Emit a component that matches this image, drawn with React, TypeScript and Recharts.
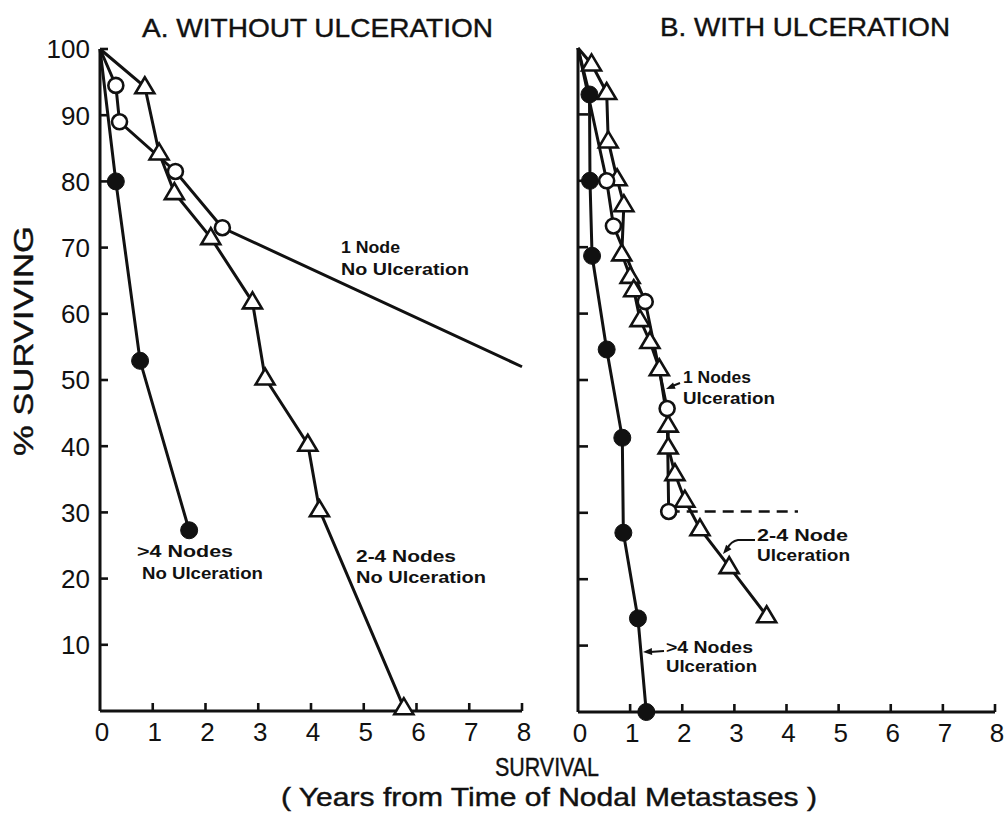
import React from "react";
import { LineChart, Line, XAxis, YAxis } from "recharts";

type Pt = { x: number; y: number };

const X_TICKS = [0, 1, 2, 3, 4, 5, 6, 7, 8];
const Y_TICKS_A = [10, 20, 30, 40, 50, 60, 70, 80, 90, 100];
const Y_TICKS_B = [10, 20, 30, 40, 50, 60, 70, 80, 90];

// A. without ulceration
const oneNodeA: Pt[] = [
  { x: 0, y: 100 },
  { x: 0.3, y: 94.5 },
  { x: 0.37, y: 89 },
  { x: 1.43, y: 81.5 },
  { x: 2.32, y: 73 },
  { x: 8, y: 52 },
];
const twoFourA: Pt[] = [
  { x: 0, y: 100 },
  { x: 0.85, y: 94.3 },
  { x: 1.12, y: 84.3 },
  { x: 1.41, y: 78.3 },
  { x: 2.1, y: 71.5 },
  { x: 2.89, y: 61.8 },
  { x: 3.13, y: 50.3 },
  { x: 3.94, y: 40.3 },
  { x: 4.16, y: 30.4 },
  { x: 5.76, y: 0.5 },
];
const fourPlusA: Pt[] = [
  { x: 0, y: 100 },
  { x: 0.3, y: 80 },
  { x: 0.76, y: 52.9 },
  { x: 1.69, y: 27.3 },
];

// B. with ulceration
const oneNodeB: Pt[] = [
  { x: 0, y: 100 },
  { x: 0.55, y: 80 },
  { x: 0.68, y: 73.2 },
  { x: 1.29, y: 61.8 },
  { x: 1.71, y: 45.7 },
  { x: 1.74, y: 30.2 },
];
const oneNodeBCensored: Pt[] = [
  { x: 1.74, y: 30.2 },
  { x: 4.22, y: 30.2 },
];
const twoFourB: Pt[] = [
  { x: 0, y: 100 },
  { x: 0.26, y: 97.6 },
  { x: 0.55, y: 93.3 },
  { x: 0.58, y: 86 },
  { x: 0.75, y: 80.3 },
  { x: 0.88, y: 76.4 },
  { x: 0.84, y: 69 },
  { x: 1.0, y: 65.6 },
  { x: 1.07, y: 63.6 },
  { x: 1.19, y: 59.1 },
  { x: 1.38, y: 55.8 },
  { x: 1.56, y: 51.7 },
  { x: 1.73, y: 43.2 },
  { x: 1.73, y: 39.9 },
  { x: 1.86, y: 35.9 },
  { x: 2.05, y: 31.9 },
  { x: 2.34, y: 27.6 },
  { x: 2.9, y: 21.9 },
  { x: 3.62, y: 14.5 },
];
const fourPlusB: Pt[] = [
  { x: 0, y: 100 },
  { x: 0.22, y: 93 },
  { x: 0.23, y: 80 },
  { x: 0.27, y: 68.7 },
  { x: 0.55, y: 54.6 },
  { x: 0.85, y: 41.3 },
  { x: 0.87, y: 27 },
  { x: 1.15, y: 14.1 },
  { x: 1.31, y: 0 },
];

const FONT = "'Liberation Sans', Arial, sans-serif";
const INK = "#111";

// no marker on the common start point or on the line running off the axis
const noMarker = (p: Pt) => (p.x === 0 && p.y === 100) || p.x >= 8;

const openCircle = (props: any) => {
  const { cx, cy, index, payload } = props;
  if (noMarker(payload)) return <g key={`oc-${index}`} />;
  return <circle key={`oc-${index}`} cx={cx} cy={cy} r={7.5} fill="#fff" stroke={INK} strokeWidth={2.6} />;
};

const filledCircle = (props: any) => {
  const { cx, cy, index, payload } = props;
  if (noMarker(payload)) return <g key={`fc-${index}`} />;
  return <circle key={`fc-${index}`} cx={cx} cy={cy} r={8.5} fill={INK} stroke={INK} strokeWidth={1} />;
};

const triangle = (props: any) => {
  const { cx, cy, index, payload } = props;
  if (noMarker(payload)) return <g key={`tr-${index}`} />;
  const pts = `${cx},${cy - 9.5} ${cx - 9.5},${cy + 6.5} ${cx + 9.5},${cy + 6.5}`;
  return <polygon key={`tr-${index}`} points={pts} fill="#fff" stroke={INK} strokeWidth={2.6} strokeLinejoin="miter" />;
};

const XTick = (props: any) => {
  const { x, y, payload } = props;
  return (
    <g>
      {payload.value !== 0 && <line x1={x} x2={x} y1={y} y2={y - 8} stroke={INK} strokeWidth={2.6} />}
      <text x={x + 2} y={y + 30} textAnchor="middle" fontSize={26} fontFamily={FONT} fill={INK}>
        {payload.value}
      </text>
    </g>
  );
};

const YTickA = (props: any) => {
  const { x, y, payload } = props;
  return (
    <g>
      <line x1={x} x2={x + 8} y1={y} y2={y} stroke={INK} strokeWidth={2.6} />
      <text x={x - 10} y={y} dy="0.36em" textAnchor="end" fontSize={26} fontFamily={FONT} fill={INK}>
        {payload.value}
      </text>
    </g>
  );
};

const YTickB = (props: any) => {
  const { x, y } = props;
  return <line x1={x} x2={x + 10} y1={y} y2={y} stroke={INK} strokeWidth={2.6} />;
};

const axisLine = { stroke: INK, strokeWidth: 3 };
const lineProps = { type: "linear" as const, dataKey: "y", stroke: INK, strokeWidth: 3, isAnimationActive: false };

const Arrow = ({ d, tip, angle }: { d: string; tip: [number, number]; angle: number }) => (
  <g>
    <path d={d} fill="none" stroke={INK} strokeWidth={2} />
    <polygon
      points="0,0 9,-3.5 9,3.5"
      fill={INK}
      transform={`translate(${tip[0]},${tip[1]}) rotate(${angle})`}
    />
  </g>
);

export default function App() {
  const ann = { fontFamily: FONT, fontWeight: 700, fontSize: 17, fill: INK, lengthAdjust: "spacingAndGlyphs" as const };
  const big = { fontFamily: FONT, fill: INK, stroke: INK, strokeWidth: 0.4, lengthAdjust: "spacingAndGlyphs" as const };
  return (
    <div style={{ position: "absolute", left: 0, top: 0, width: 1006, height: 814, background: "#fff" }}>
      <div style={{ position: "absolute", left: 0, top: 0 }}>
        <LineChart width={540} height={760} margin={{ top: 49, right: 18, bottom: 19, left: 40 }}>
          <XAxis
            type="number"
            dataKey="x"
            domain={[0, 8]}
            ticks={X_TICKS}
            height={30}
            axisLine={axisLine}
            tickLine={false}
            tickSize={0}
            tickMargin={0}
            tick={XTick}
            interval={0}
          />
          <YAxis
            type="number"
            domain={[0, 100]}
            ticks={Y_TICKS_A}
            width={60}
            axisLine={axisLine}
            tickLine={false}
            tickSize={0}
            tickMargin={0}
            tick={YTickA}
            interval={0}
          />
          <Line {...lineProps} data={fourPlusA} dot={filledCircle} />
          <Line {...lineProps} data={twoFourA} dot={triangle} />
          <Line {...lineProps} data={oneNodeA} dot={openCircle} />
        </LineChart>
      </div>
      <div style={{ position: "absolute", left: 540, top: 0 }}>
        <LineChart width={466} height={760} margin={{ top: 48, right: 11, bottom: 18, left: 8 }}>
          <XAxis
            type="number"
            dataKey="x"
            domain={[0, 8]}
            ticks={X_TICKS}
            height={30}
            axisLine={axisLine}
            tickLine={false}
            tickSize={0}
            tickMargin={0}
            tick={XTick}
            interval={0}
          />
          <YAxis
            type="number"
            domain={[0, 100]}
            ticks={Y_TICKS_B}
            width={30}
            axisLine={axisLine}
            tickLine={false}
            tickSize={0}
            tickMargin={0}
            tick={YTickB}
            interval={0}
          />
          <Line {...lineProps} data={fourPlusB} dot={filledCircle} />
          <Line {...lineProps} data={twoFourB} dot={triangle} />
          <Line {...lineProps} data={oneNodeBCensored} strokeDasharray="11 7" strokeWidth={2.5} dot={false} />
          <Line {...lineProps} data={oneNodeB} dot={openCircle} />
        </LineChart>
      </div>
      <svg
        width={1006}
        height={814}
        style={{ position: "absolute", left: 0, top: 0, pointerEvents: "none" }}
      >
        <text x={142} y={37} fontSize={26} textLength={351} {...big}>
          A. WITHOUT ULCERATION
        </text>
        <text x={660} y={36} fontSize={26} textLength={290} {...big}>
          B. WITH ULCERATION
        </text>
        <text x={0} y={0} transform="translate(33,456) rotate(-90)" fontSize={27} textLength={230} {...big}>
          % SURVIVING
        </text>
        <text x={495} y={776} fontSize={25} textLength={104} {...big}>
          SURVIVAL
        </text>
        <text x={281} y={806} fontSize={25} textLength={536} {...big}>
          ( Years from Time of Nodal Metastases )
        </text>

        <text x={341} y={253} {...ann} textLength={59}>1 Node</text>
        <text x={341} y={275} {...ann} textLength={128}>No Ulceration</text>
        <text x={137} y={557} {...ann} textLength={96}>&gt;4 Nodes</text>
        <text x={142} y={579} {...ann} textLength={121}>No Ulceration</text>
        <text x={356} y={562} {...ann} textLength={100}>2-4 Nodes</text>
        <text x={356} y={583} {...ann} textLength={130}>No Ulceration</text>

        <text x={683} y={383} {...ann} textLength={68}>1 Nodes</text>
        <text x={683} y={404} {...ann} textLength={92}>Ulceration</text>
        <Arrow d="M680,383 L670,387" tip={[666, 389]} angle={-22} />
        <text x={757} y={541} {...ann} textLength={91}>2-4 Node</text>
        <text x={757} y={561} {...ann} textLength={93}>Ulceration</text>
        <Arrow d="M755,540 L738,540 Q731,541 727,549" tip={[723, 554]} angle={-50} />
        <text x={666} y={653} {...ann} textLength={87}>&gt;4 Nodes</text>
        <text x={666} y={672} {...ann} textLength={91}>Ulceration</text>
        <Arrow d="M664,651 L650,652" tip={[643, 652]} angle={-3} />
      </svg>
    </div>
  );
}
